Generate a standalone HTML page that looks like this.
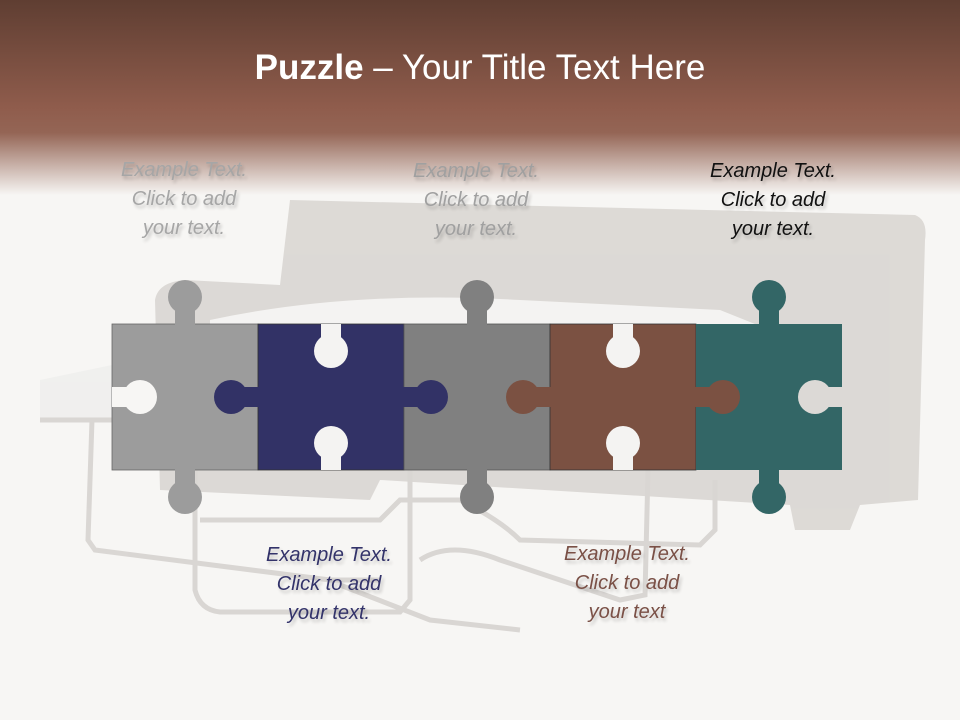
<!DOCTYPE html>
<html><head><meta charset="utf-8"><style>
html,body{margin:0;padding:0}
body{width:960px;height:720px;position:relative;overflow:hidden;background:#f7f6f4;font-family:"Liberation Sans",sans-serif}
.t{position:absolute;width:200px;text-align:center;font-style:italic;font-size:20px;line-height:29px;letter-spacing:0;text-shadow:2px 3px 3px rgba(0,0,0,0.2)}
h1{position:absolute;top:48px;left:0;width:960px;text-align:center;margin:0;font-weight:normal;font-size:35px;color:#fff}
</style></head><body>
<svg width="960" height="720" style="position:absolute;left:0;top:0">
<defs>
<linearGradient id="g" x1="0" y1="0" x2="0" y2="1">
<stop offset="0" stop-color="#5f3e32"/><stop offset="0.55" stop-color="#8f5c4c"/><stop offset="0.68" stop-color="#946555"/><stop offset="1" stop-color="#f7f6f4"/>
</linearGradient>
<mask id="mB"><rect width="960" height="720" fill="#fff"/>
<circle cx="331" cy="351" r="17"/><rect x="321" y="324" width="20" height="27"/>
<circle cx="331" cy="443" r="17"/><rect x="321" y="443" width="20" height="27"/></mask>
<mask id="mR"><rect width="960" height="720" fill="#fff"/>
<circle cx="623" cy="351" r="17"/><rect x="613" y="324" width="20" height="27"/>
<circle cx="623" cy="443" r="17"/><rect x="613" y="443" width="20" height="27"/></mask>
<mask id="m1"><rect width="960" height="720" fill="#fff"/>
<circle cx="140" cy="397" r="17"/><rect x="112" y="387" width="28" height="20"/></mask>
<mask id="mT"><rect width="960" height="720" fill="#fff"/>
<circle cx="815" cy="397" r="17"/><rect x="815" y="387" width="27" height="20"/></mask>
</defs>
<rect width="960" height="195" fill="url(#g)"/>
<g opacity="0.75">
<path d="M290 200 L915 215 Q928 220 925 240 L918 500 L860 505 L850 530 L795 530 L790 505 L380 480 L370 500 L160 490 L155 300 Q158 282 185 280 L280 285 Z" fill="#d4d0cc"/>
<path d="M210 320 Q350 290 520 300 L720 310 L770 330 L770 470 L210 470 Z" fill="#f4f3f2"/>
<path d="M40 380 L112 365 L112 420 L40 420 Z" fill="#eeedec"/>
<g fill="none" stroke="#d0ccc9" stroke-width="5">
<path d="M40 420 L112 420"/><path d="M92 420 L88 540 L95 550 L330 580 L380 580"/>
<path d="M195 470 L195 590 Q200 610 220 612 L400 612 L410 600 L410 460"/>
<path d="M200 520 L380 520 L400 500 L460 500 Q500 520 520 540 L700 545 L715 530 L715 480"/>
<path d="M420 560 Q450 540 500 560 L620 600 L645 595 L648 470"/>
<path d="M340 585 L430 620 L520 630"/>
</g>
</g>
<rect x="112" y="324" width="146" height="146" fill="#9c9c9c" mask="url(#m1)" stroke="#666" stroke-width="0.8"/>
<rect x="258" y="324" width="146" height="146" fill="#323266" mask="url(#mB)" stroke="#333" stroke-width="0.8"/>
<rect x="404" y="324" width="146" height="146" fill="#808080" stroke="#555" stroke-width="0.8"/>
<rect x="550" y="324" width="146" height="146" fill="#7b5142" mask="url(#mR)" stroke="#333" stroke-width="0.8"/>
<rect x="696" y="324" width="146" height="146" fill="#336666" mask="url(#mT)"/>
<g fill="#9c9c9c"><circle cx="185" cy="297" r="17"/><rect x="175" y="297" width="20" height="28"/><circle cx="185" cy="497" r="17"/><rect x="175" y="469" width="20" height="28"/></g>
<g fill="#323266"><circle cx="231" cy="397" r="17"/><rect x="231" y="387" width="28" height="20"/><circle cx="431" cy="397" r="17"/><rect x="403" y="387" width="28" height="20"/></g>
<g fill="#808080"><circle cx="477" cy="297" r="17"/><rect x="467" y="297" width="20" height="28"/><circle cx="477" cy="497" r="17"/><rect x="467" y="469" width="20" height="28"/></g>
<g fill="#7b5142"><circle cx="523" cy="397" r="17"/><rect x="523" y="387" width="28" height="20"/><circle cx="723" cy="397" r="17"/><rect x="695" y="387" width="28" height="20"/></g>
<g fill="#336666"><circle cx="769" cy="297" r="17"/><rect x="759" y="297" width="20" height="28"/><circle cx="769" cy="497" r="17"/><rect x="759" y="469" width="20" height="28"/></g>
</svg>
<h1><b>Puzzle</b> – Your Title Text Here</h1>
<div class="t" style="left:84px;top:156px;color:#a6a6a6">Example Text.<br>Click to add<br>your text.</div>
<div class="t" style="left:376px;top:157px;color:#a0a0a0">Example Text.<br>Click to add<br>your text.</div>
<div class="t" style="left:673px;top:157px;color:#111">Example Text.<br>Click to add<br>your text.</div>
<div class="t" style="left:229px;top:541px;color:#33336a">Example Text.<br>Click to add<br>your text.</div>
<div class="t" style="left:527px;top:540px;color:#7a5046">Example Text.<br>Click to add<br>your text</div>
</body></html>
